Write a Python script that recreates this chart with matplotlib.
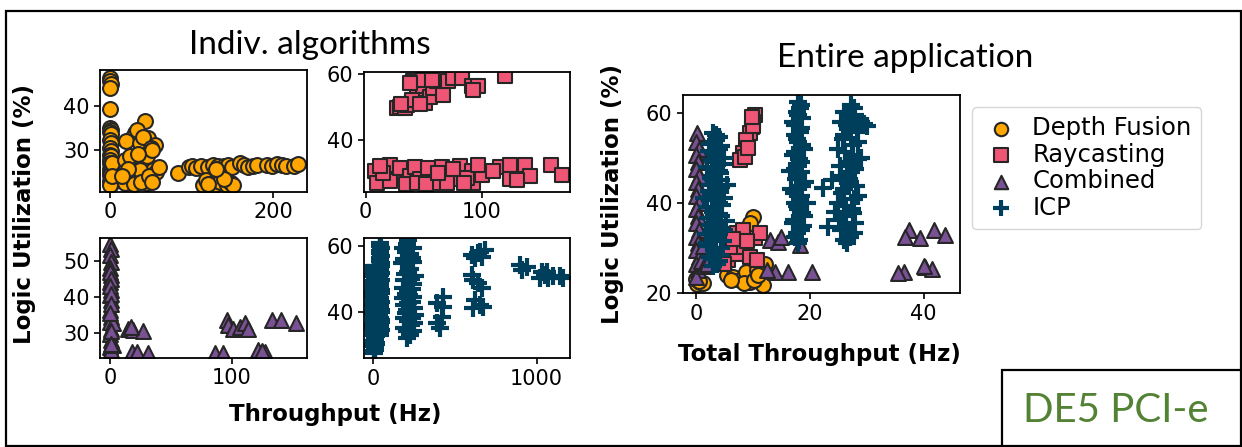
import numpy as np
import matplotlib
matplotlib.use("Agg")
import matplotlib.pyplot as plt
from matplotlib.patches import Rectangle

# ---- data (throughput Hz, logic utilization %) ----
# individual algorithms
df_ind = [(0, 46.5), (0.5, 45.8), (1, 45.2), (0, 44.2), (0.5, 39.4), (0, 35), (1, 34.5), (0.5, 34), (2, 33.5),
          (0, 32.3), (1, 31.5), (0, 30.5), (2, 29.8), (0, 28.8), (1, 28.5), (0.5, 27.7), (0, 26.9), (2, 26.3),
          (0, 25.6), (1, 25.4), (0.5, 24.6), (0, 24.2), (2, 23.5), (0, 22.8), (1, 22.2), (0, 21.9), (3, 27), (3, 24),
          (43, 36.5), (30.6, 33.8), (26.5, 32.7), (47, 32.7), (55, 31.2), (20, 31.9), (37, 31.5), (33, 34.5),
          (41, 33), (50, 30.5), (18, 27.7), (28.6, 27.3), (41, 26.9), (53, 25.4), (57, 25), (24.5, 24.6),
          (32.6, 23.1), (45, 22.3), (18, 22.3), (37, 25.4), (45, 28.5), (51, 30), (25, 28.5), (35, 29), (22, 25.5),
          (30, 22.2), (38, 22.5), (48, 24), (52, 22.5), (15, 24), (60, 26), (83, 24.6),
          (97, 26), (100, 26.2), (105, 25.8), (112, 26.2), (120, 26), (126.5, 26.5), (132, 26.2), (139, 26.2),
          (145, 26.5), (149, 26.0), (159, 27), (164, 26.6), (169, 26), (175.5, 26.2), (180, 26.4), (192, 26.5),
          (198, 26.2), (204, 26.8), (210, 26.5), (215, 26.3), (224.5, 26.2), (230.6, 26.8),
          (114, 22), (118, 23), (125, 22.3), (128.6, 22), (135, 22.5), (143, 22), (148, 22.4), (151, 22),
          (120, 22.1), (140, 23.2), (130, 25.5)]

rc_ind = [(26.7, 49.6), (29.6, 50.1), (33.9, 49.6), (35.3, 50.6), (41, 57.7), (44, 54.6), (49.7, 54.1),
          (45.4, 52.1), (51, 51.1), (55.5, 53.1), (58.3, 55.7), (61.2, 57.7), (67, 53.6), (71.3, 57.7),
          (75.6, 58.7), (82.8, 58.7), (91.4, 56.2), (97, 56.2), (92.5, 55.2), (120, 59.2), (49.7, 58.2),
          (38.2, 57.2), (56.9, 58.2), (40, 52), (47, 50.8), (30, 51),
          (8, 30.5), (9.5, 27), (21, 32.5), (21, 27.5), (29.6, 31.5), (38, 29), (42.5, 31.7), (46.8, 28),
          (54, 31.5), (60, 27), (65.5, 31.9), (75.5, 28), (81, 32), (91.4, 30.5), (92.8, 27), (100, 29.5),
          (115.8, 31.7), (124.4, 32.5), (124.4, 28), (137.4, 32.5), (141.7, 29), (160, 32.5), (169, 29.4),
          (35, 26.5), (70, 27), (87, 28.5), (15, 30), (44, 27), (75.5, 31.2), (12, 32), (52, 26.5), (62, 30),
          (85, 26.8), (97, 32.5), (130, 27.8), (110, 30.6)]

comb_ind = [(0, 54.9), (0.5, 53.5), (0, 51.7), (1, 49.8), (0, 48), (0.5, 46.1), (0, 44.3), (1, 42), (0, 40.6),
            (0.5, 39.2), (0, 36.4), (1, 34.5), (0, 33.1), (0.5, 31.3), (0, 29.9), (1, 28), (0, 26.2), (0.5, 25.3),
            (2.7, 32.7), (2.7, 26.7), (0, 47), (1, 45), (0, 43), (0.5, 41), (1, 38), (0, 35.5), (0.5, 30.5), (1, 27),
            (15, 31.3), (19, 30.8), (27.4, 30.5), (17.8, 24.8), (22, 24.8), (31.5, 24.4), (17, 31.8),
            (86, 24.4), (93, 24.4), (96, 33.6), (97, 32.2), (101, 31.3),
            (107, 31.8), (111, 32.7), (113.7, 31.3), (122, 25.3), (127.4, 24.8), (125, 25),
            (133, 33.6), (141, 33.6), (153, 32.7)]

icp_ind = [(3, 27.5), (8, 28.3), (12, 29.1), (0, 29.8), (15, 30.6), (5, 31.2), (10, 32), (2, 32.9), (18, 33.5),
           (7, 34.2), (13, 35), (0, 35.8), (9, 36.5), (16, 37.1), (4, 38), (11, 38.8), (1, 39.5), (14, 40.2),
           (6, 41), (19, 41.7), (3, 42.5), (12, 43.3), (8, 44), (0, 44.8), (15, 45.5), (5, 46.2), (10, 47),
           (2, 47.9), (17, 48.6), (7, 49.3), (13, 50), (1, 50.8), (9, 51.6), (4, 52.3), (14, 53.1), (6, 54),
           (6, 27.9), (11, 28.7), (1, 29.5), (14, 30.2), (4, 31), (9, 31.6), (17, 32.5), (3, 33.2), (12, 33.9),
           (8, 34.6), (0, 35.4), (15, 36.1), (5, 36.9), (10, 37.6), (19, 38.4), (2, 39.1), (13, 39.9), (7, 40.6),
           (16, 41.3), (0, 42.1), (11, 42.9), (4, 43.7), (18, 44.4), (9, 45.1), (1, 45.9), (14, 46.6), (6, 47.4),
           (12, 48.2), (3, 49), (16, 49.7), (8, 50.4), (0, 51.2), (11, 52), (5, 52.7), (15, 53.5), (10, 54),
           (38, 33), (45, 34.5), (42, 36), (50, 37.5), (36, 39), (47, 40.5), (40, 42), (44, 43.5), (37, 45),
           (49, 46.5), (41, 48), (46, 49.5), (39, 51), (43, 52.5), (48, 54), (40, 55.5), (45, 57), (42, 58.5),
           (44, 60), (41, 61),
           (43, 33.8), (39, 35.3), (48, 36.8), (41, 38.2), (45, 39.8), (38, 41.3), (50, 42.8), (42, 44.3),
           (46, 45.8), (40, 47.3), (44, 48.8), (37, 50.3), (47, 51.8), (41, 53.3), (45, 54.8), (38, 56.3),
           (43, 57.8), (46, 59.3), (40, 60.5),
           (214, 61.8), (184, 59.3), (245, 59.3), (173, 54.7), (235, 56.2), (255, 50.7), (184, 47.1), (204, 44),
           (235, 43), (214, 37), (255, 39), (224, 32.9), (204, 31.9), (200, 58), (225, 53), (195, 51.5),
           (240, 48.5), (210, 46), (190, 42), (250, 41), (200, 39.5), (230, 36), (190, 35), (245, 34), (215, 55),
           (230, 50), (205, 40.5), (220, 45),
           (205, 60.5), (225, 57.5), (190, 56), (245, 55), (215, 52), (185, 49.5), (235, 47), (200, 45.5),
           (245, 44.5), (215, 42.5), (185, 38), (235, 38), (205, 34), (250, 36.5), (180, 44), (225, 41),
           (428, 44.6), (388, 42.5), (428, 41.5), (418, 38.5), (388, 36.4), (408, 34.9),
           (602, 57.3), (653, 58.3), (684, 58.8), (622, 56.2), (663, 56.7), (602, 51.2), (643, 48.6), (612, 49.6),
           (663, 47.1), (622, 43.6), (653, 42), (673, 41.5), (612, 41), (640, 57.8),
           (898, 54.2), (908, 52.7), (939, 53.7),
           (1031, 52.2), (1051, 51.2), (1071, 50.2), (1102, 50.7), (1143, 50.7), (1163, 50.2), (1020, 50.2),
           (1061, 52.2)]

# entire application
df_all = [(0.2, 22), (0.7, 22.4), (1.2, 22.1), (0, 23), (0.5, 22.6), (5.4, 23.9), (6.6, 23.6), (7.7, 22.8),
          (9.5, 22.4), (11.8, 21.7), (8.9, 24.7), (12.2, 26.5), (10.7, 25), (10, 36.9), (9.6, 35.5), (8.5, 22.2),
          (10.2, 22.8), (6.2, 22.9), (11, 24)]

rc_all = [(10.4, 59.5), (10.1, 58), (9.8, 56.9), (9.5, 55.4), (8.9, 53.9), (8.3, 51), (7.7, 49.5), (8.6, 50.2),
          (9.2, 52.1), (10, 57), (9.9, 59), (7.2, 33.2), (10.4, 32.1), (5.7, 27.3), (7.2, 28.7), (8.3, 30.2),
          (9.5, 28), (10.7, 27.3), (6, 30.2), (11.3, 33.2), (8.3, 34), (5, 26.5), (9, 31.5), (6.5, 32)]

comb_all = [(0.2, 55.4), (0, 53.5), (0.5, 52), (0, 50.5), (0.3, 49), (0, 47.5), (0.6, 46), (0, 44.5), (0.3, 43),
            (0, 41.5), (0.5, 40), (0, 38.5), (0.3, 37), (0, 35.5), (0.6, 34), (0, 32.5), (0.3, 31), (0, 29.5),
            (0.5, 28), (0, 26.5), (0.3, 25), (0, 23.5), (1, 27), (1.2, 30.5), (1.5, 26), (2, 26.5),
            (13, 31.7), (14.5, 31.3), (16.2, 24.7), (13.9, 24.7), (18.3, 30.6), (20.4, 24.7), (15, 32.5),
            (12.5, 25), (36.5, 24.7), (40.3, 25.8), (41.4, 25.4), (37.4, 33.9), (39.3, 32.1), (41.8, 33.9),
            (43.8, 32.8), (36.8, 32.4), (35.5, 24.5), (40, 26)]

icp_all = [(3, 26), (4, 27), (2.5, 28), (3.5, 29), (4.5, 30), (2, 31), (3, 32), (4, 33), (5, 34), (2.5, 35),
           (3.5, 36), (4.5, 37), (3, 38), (2, 39), (4, 40), (5, 41), (3, 42), (3.5, 43), (2.5, 44), (4.5, 45),
           (3, 46), (4, 47), (2, 48), (3.5, 49), (5, 50), (3, 51), (4, 52), (2.5, 53), (3.5, 54), (3, 55.5),
           (1.5, 41), (5.5, 44), (1.8, 33), (5.3, 36),
           (3.8, 26.5), (2.8, 27.5), (4.2, 28.5), (3.2, 29.5), (2.2, 30.5), (4.8, 31.5), (3.6, 32.5), (2.6, 33.5),
           (4.2, 34.5), (3.2, 35.5), (2.2, 36.5), (4, 37.5), (3.4, 38.5), (4.6, 39.5), (2.8, 40.5), (3.8, 41.5),
           (2.4, 42.5), (4.4, 43.5), (3.2, 44.5), (2.6, 45.5), (4.2, 46.5), (3.4, 47.5), (4.8, 48.5), (2.8, 49.5),
           (3.8, 50.5), (2.4, 51.5), (4.4, 52.5), (3.2, 53.5), (4, 54.5), (3.6, 55),
           (18, 31), (17.5, 32.5), (18.5, 34), (17, 35.5), (19, 37), (18, 38.5), (17.5, 40), (18.5, 41.5),
           (16.8, 43), (19.2, 44.5), (18, 46), (17.5, 47.5), (18.5, 49), (17, 50.5), (19, 52), (18, 53.5),
           (17.5, 55), (18.5, 56.5), (17, 58), (18, 59.5), (18.3, 61), (18, 62.4), (16.5, 47), (19.5, 40),
           (18.2, 31.8), (17.8, 33.2), (18.8, 34.8), (17.3, 36.2), (18.6, 37.8), (17.8, 39.2), (18.3, 40.8),
           (17.2, 42.2), (18.7, 43.8), (17.6, 45.2), (18.4, 46.8), (17.9, 48.2), (18.2, 49.8), (17.4, 51.2),
           (18.6, 52.8), (17.7, 54.2), (18.3, 55.8), (17.5, 57.2), (18.6, 58.8), (17.7, 60.2), (18.4, 61.6),
           (26.5, 31), (27, 32.5), (25.5, 34), (28, 35.5), (26, 37), (27.5, 38.5), (25, 40), (28.5, 41.5),
           (26, 43), (27, 44.5), (25.5, 46), (28, 47.5), (26.5, 49), (27.5, 50.5), (25, 52), (28.5, 53.5),
           (26, 55), (27, 56.5), (25.5, 58), (28, 59.5), (27.3, 61.7), (29.5, 57.5), (30, 57), (23.3, 34.7),
           (22.4, 43.2), (24, 45), (29, 50), (24.5, 38),
           (26, 31.8), (27.8, 33.2), (26.3, 34.8), (25.2, 36.2), (27.6, 37.8), (26.4, 39.2), (27.8, 40.8),
           (25.6, 42.2), (28.2, 43.8), (26.6, 45.2), (27.2, 46.8), (25.3, 48.2), (28.4, 49.8), (26.2, 51.2),
           (27.6, 52.8), (25.8, 54.2), (28.3, 55.8), (26.6, 57.2), (27.4, 58.8), (26, 60.2), (27.8, 61), (29, 58)]

labels = ['Depth Fusion', 'Raycasting', 'Combined', 'ICP']
colors = ['#ffa600', '#ef5675', '#7a5195', '#003f5c']
markers = ['o', 's', '^', '+']

W, H = 1242, 447


def box(x0, y0, x1, y1):
    """pixel box (top-left origin) -> figure fraction rect"""
    return [x0 / W, 1 - y1 / H, (x1 - x0) / W, (y1 - y0) / H]


def draw(ax, pts, i):
    pts = np.array(pts)
    if markers[i] == '+':
        return ax.scatter(pts[:, 0], pts[:, 1], marker='+', s=150, c=colors[i], linewidths=3,
                          label=labels[i])
    return ax.scatter(pts[:, 0], pts[:, 1], marker=markers[i], s=115, c=colors[i],
                      edgecolors='#262626', linewidths=1.5, label=labels[i])


def style(ax, xticks, yticks, xlim, ylim):
    ax.set_xticks(xticks)
    ax.set_yticks(yticks)
    ax.set_xlim(*xlim)
    ax.set_ylim(*ylim)
    ax.tick_params(labelsize=15, width=1.2, length=4)
    for sp in ax.spines.values():
        sp.set_linewidth(1.3)


fig = plt.figure(figsize=(W / 100, H / 100), dpi=100)

ax1 = fig.add_axes(box(100, 70, 307, 192))
ax2 = fig.add_axes(box(364, 71.5, 570, 191.7))
ax3 = fig.add_axes(box(100, 237.5, 307, 358))
ax4 = fig.add_axes(box(364, 237.7, 570, 358.3))
ax5 = fig.add_axes(box(682.7, 95, 960, 293.3))

draw(ax1, df_ind, 0)
style(ax1, [0, 200], [30, 40], (-12, 241), (20.3, 48.3))
draw(ax2, rc_ind, 1)
style(ax2, [0, 100], [40, 60], (-1.5, 176), (24.3, 60.7))
draw(ax3, comb_ind, 2)
style(ax3, [0, 100], [30, 40, 50], (-8.2, 162), (23.1, 56.6))
draw(ax4, icp_ind, 3)
style(ax4, [0, 1000], [40, 60], (-57, 1204), (25.8, 62.5))

handles = [draw(ax5, df_all, 0), draw(ax5, rc_all, 1), draw(ax5, comb_all, 2), draw(ax5, icp_all, 3)]
style(ax5, [0, 20, 40], [20, 40, 60], (-2.3, 46.4), (19.9, 63.9))

leg = ax5.legend(handles=handles, loc='upper left', bbox_to_anchor=(971.7 / W, 1 - 106.7 / H),
                 bbox_transform=fig.transFigure, borderaxespad=0, fontsize=17.5, labelspacing=0.1,
                 handletextpad=0.5, borderpad=0.4, handlelength=1.6, markerscale=0.9)

# axis labels
lab = dict(fontsize=16.5, fontweight='bold', ha='center', va='center')
fig.text(25 / W, 1 - 214 / H, 'Logic Utilization (%)', rotation=90, **lab)
fig.text(335 / W, 1 - 415 / H, 'Throughput (Hz)', **lab)
fig.text(613 / W, 1 - 194 / H, 'Logic Utilization (%)', rotation=90, **lab)
fig.text(819 / W, 1 - 355 / H, 'Total Throughput (Hz)', **lab)

# slide titles
fig.text(310 / W, 1 - 45 / H, 'Indiv. algorithms', fontsize=24, family='Lato', ha='center', va='center')
fig.text(905 / W, 1 - 58 / H, 'Entire application', fontsize=24, family='Lato', ha='center', va='center')

# slide frame and board tag
fig.patches.append(Rectangle((6 / W, 1 - 446 / H), 1235 / W, 435 / H, transform=fig.transFigure,
                             fill=False, lw=1.6, ec='black'))
fig.patches.append(Rectangle((1002 / W, -0.05), 0.2, 1 - 370 / H + 0.05, transform=fig.transFigure,
                             fill=False, lw=1.6, ec='black'))
fig.text(1116 / W, 1 - 410 / H, 'DE5 PCI-e', fontsize=29, family='Lato', color='#548235',
         ha='center', va='center')

fig.savefig('out.png', dpi=100)
